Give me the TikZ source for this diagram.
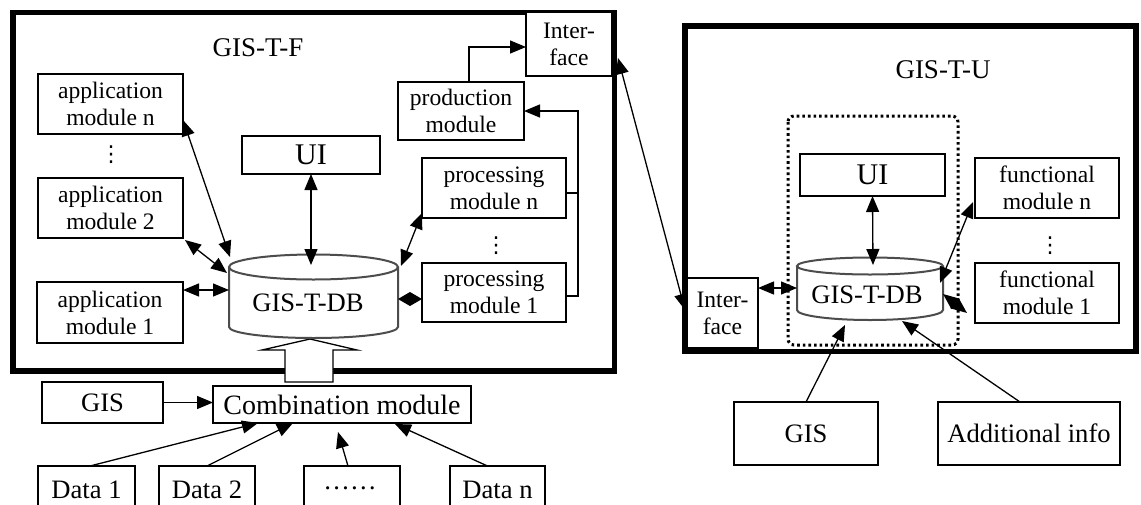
\documentclass[tikz,border=0pt]{standalone}
\usepackage{fontspec}
\setmainfont{Liberation Serif}
\newfontfamily\djv{DejaVu Sans}
\usetikzlibrary{arrows.meta,calc}
\newcommand\lbl{\fontsize{11.8}{13.5}\selectfont}
\newcommand\lblbig{\fontsize{13.3}{15}\selectfont}
\tikzset{
  box/.style={draw, line width=0.7pt, inner sep=0pt, outer sep=0pt, align=center, font=\lbl, fill=white},
  frame/.style={draw, line width=2.8pt},
  ar/.style={-{Triangle[length=8pt,width=6.5pt]}, line width=0.65pt},
  dar/.style={{Triangle[length=8pt,width=6.5pt]}-{Triangle[length=8pt,width=6.5pt]}, line width=0.65pt},
  dmd/.style={-{Diamond[length=12pt,width=7pt]}, line width=0.65pt},
  ln/.style={line width=0.65pt},
  cyl/.style={draw=black!70, line width=1pt, fill=white},
  dotbox/.style={draw, line width=1.5pt, dash pattern=on 1.3pt off 1.5pt, rounded corners=3pt},
  title/.style={font=\fontsize{13.5}{15}\selectfont, inner sep=0pt},
  dbtext/.style={font=\lblbig, inner sep=0pt},
  vd/.style={font=\djv\fontsize{11}{12}\selectfont, inner sep=0pt},
}
% [opts]{x1}{y1}{x2}{y2}{name}{text}
\newcommand\mkbox[7][]{\node[box,#1,minimum width={(#4-#2)*0.5pt},minimum height={(#5-#3)*0.5pt}] (#6) at ({(#2+#4)/2},{(#3+#5)/2}) {#7};}
\begin{document}
\begin{tikzpicture}[x=0.5pt,y=-0.5pt]
\useasboundingbox (0,0) rectangle (1141,504);
\clip (0,0) rectangle (1141,504);
\fill[white] (0,0) rectangle (1141,504);

% ===== Left: GIS-T-F =====
\draw[frame] (13,12.5) rectangle (614.5,371);
\node[title] (tF) at (258,48) {GIS-T-F};

\mkbox{38}{74}{183}{134}{appn}{application\\module n}
\node[vd] (vd1) at (111,155) {⋮};
\mkbox{38}{178}{183}{238}{app2}{application\\module 2}
\mkbox{37}{282}{183}{343}{app1}{application\\module 1}
\mkbox[font=\fontsize{15}{16}\selectfont]{242}{136}{380}{174}{uiL}{UI}
\mkbox{526}{12}{612}{76}{ifL}{Inter-\\face}
\mkbox{398}{82}{524}{140}{prod}{production\\module}
\mkbox{422}{158}{566}{218}{procn}{processing\\module n}
\node[vd] (vd2) at (496,246) {⋮};
\mkbox{422}{263}{566}{322}{proc1}{processing\\module 1}

% hollow block arrow from combination module to DB
\draw[ln, fill=white] (285,382) -- (285,350) -- (262,350) -- (310,339) -- (357,350) -- (333,350) -- (333,382) -- cycle;

% cylinder GIS-T-DB (left)
\draw[cyl] (229,267) -- (229,327) arc[start angle=180, end angle=0, x radius=84.5, y radius=11] -- (398,267);
\draw[cyl] (313.5,267) ellipse [x radius=84.5, y radius=12.5];
\node[dbtext] (dbL) at (308,303) {GIS-T-DB};
\coordinate (dbLa) at (230,257);
\coordinate (dbLb) at (227,273);
\coordinate (dbLc) at (229,290);
\coordinate (dbLt) at (311,265);
\coordinate (dbLd) at (401,266);
\coordinate (dbLe) at (398,299);

\draw[dar] ([yshift=-8pt]appn.east) -- (dbLa);
\draw[dar] ([xshift=1pt,yshift=-1pt]app2.south east) -- (dbLb);
\draw[dar] ([yshift=11.25pt]app1.east) -- (dbLc);
\draw[dar] (uiL.south) -- (dbLt);
\draw[dar] ([yshift=2.5pt]procn.south west) -- (dbLd);
\draw[dmd] (proc1.west |- dbLe) -- (dbLe);
\draw[ar] ([yshift=-1.75pt]proc1.east) -- ++(12,0) |- (prod.east);
\draw[ln] ([yshift=-2.5pt]procn.east) -- ++(12,0);
\draw[ar] ([xshift=4pt]prod.north) |- ([yshift=-1.5pt]ifL.west);

% ===== Bottom left =====
\mkbox[font=\lblbig]{42}{382}{163}{423}{gisL}{GIS}
\mkbox[font=\fontsize{14}{15}\selectfont]{213}{386}{471}{423}{comb}{Combination module}
\draw[ar] (gisL.east) -- (gisL.east -| comb.west);

\mkbox[font=\lblbig]{38}{466}{135}{540}{d1}{}
\mkbox[font=\lblbig]{159}{466}{255}{540}{d2}{}
\mkbox[font=\lblbig]{304}{466}{400}{540}{dd}{}
\mkbox[font=\lblbig]{450}{466}{545}{540}{dn}{}
\node[font=\lblbig, anchor=base] (t1) at (86.5,498) {Data 1};
\node[font=\lblbig, anchor=base] (t2) at (207,498) {Data 2};
\node[font=\lblbig, anchor=base] (t3) at (350,489) {……};
\node[font=\lblbig, anchor=base] (tn) at (497.5,498) {Data n};

\draw[ar] ([xshift=1.75pt]d1.north) -- ([xshift=22.5pt]comb.south west);
\draw[ar] (d2.north) -- ([xshift=40pt]comb.south west);
\draw[ar] ([xshift=-2pt]dd.north) -- ([xshift=62.5pt,yshift=-4.5pt]comb.south west);
\draw[ar] ([xshift=-5pt]dn.north) -- ([xshift=91pt,yshift=-0.5pt]comb.south west);

% ===== Right: GIS-T-U =====
\draw[frame] (685,26) rectangle (1136,351.5);
\node[title] (tU) at (943,70) {GIS-T-U};
\draw[dotbox] (788,116) rectangle (958,345);

\mkbox[font=\fontsize{15}{16}\selectfont]{800}{154}{945}{196}{uiR}{UI}
\mkbox{687}{278}{758}{348}{ifR}{Inter-\\face}
\mkbox{975}{158}{1119}{218}{fmn}{functional\\module n}
\node[vd] (vd3) at (1050,246) {⋮};
\mkbox{975}{263}{1119}{323}{fm1}{functional\\module 1}

\draw[cyl] (797,266) -- (797,310) arc[start angle=180, end angle=0, x radius=73, y radius=10] -- (943,266);
\draw[cyl] (870,266) ellipse [x radius=73, y radius=8.5];
\node[dbtext] (dbR) at (867,295) {GIS-T-DB};
\coordinate (dbRa) at (797,288);
\coordinate (dbRt) at (873,265);
\coordinate (dbRb) at (940,283);
\coordinate (dbRc) at (943,294);
\coordinate (dbRg) at (845,325);
\coordinate (dbRh) at (902,321);

\mkbox[font=\lblbig]{734}{402}{878}{465}{gisR}{GIS}
\mkbox[font=\lblbig]{938}{402}{1120}{465}{addi}{Additional info}

\draw[dar] ([yshift=12.5pt]ifR.east) -- (dbRa);
\draw[dar] (uiR.south) -- (dbRt);
\draw[dar] ([xshift=-1pt,yshift=-7pt]fmn.west) -- (dbRb);
\draw[dar] ([xshift=-4pt,yshift=-10pt]fm1.west) -- (dbRc);
\draw[ar] (gisR.north) -- (dbRg);
\draw[ar] ([xshift=-4.5pt]addi.north) -- (dbRh);

% Interface to Interface
\draw[dar] ([xshift=3pt,yshift=-7pt]ifL.east) -- ([xshift=-1pt,yshift=1.5pt]ifR.west);
\end{tikzpicture}
\end{document}
